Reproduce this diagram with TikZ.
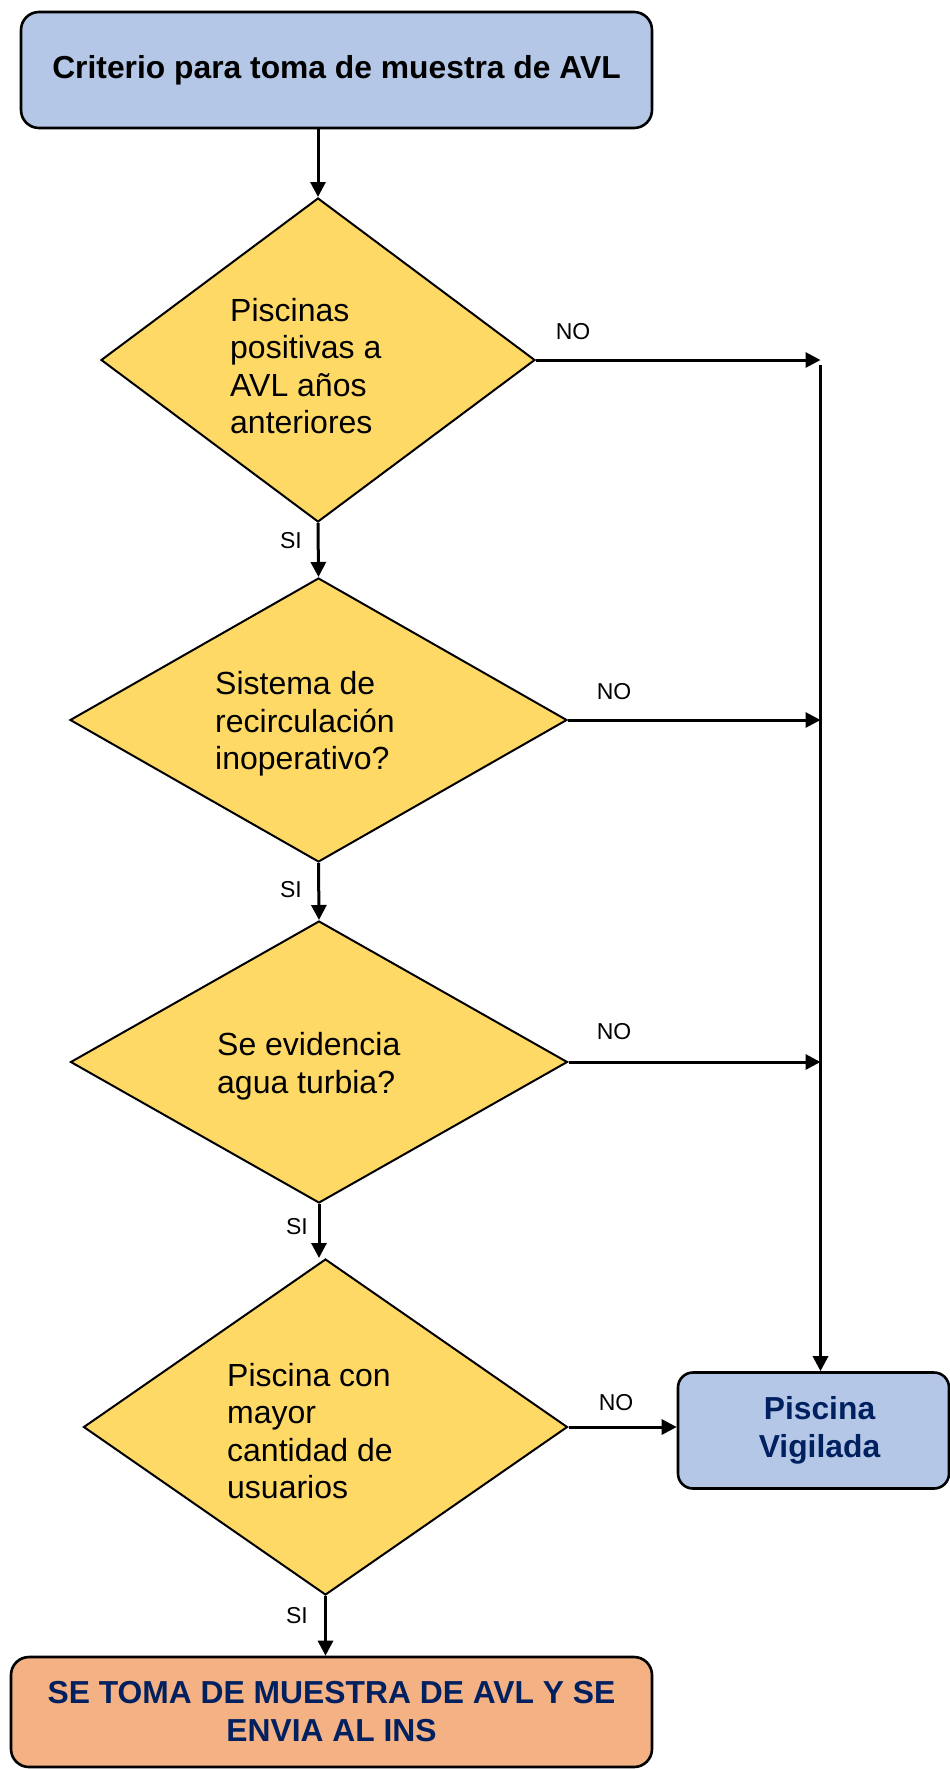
\documentclass[tikz,border=0pt]{standalone}
\usepackage{fontspec}
\setmainfont{Liberation Sans}
\usetikzlibrary{shapes.geometric,arrows.meta}
\definecolor{boxblue}{HTML}{B4C7E7}
\definecolor{gold}{HTML}{FFD966}
\definecolor{peach}{HTML}{F4B183}
\definecolor{navy}{HTML}{002060}
\begin{document}
\begin{tikzpicture}[x=1pt,y=-1pt,
  font=\fontsize{32}{37.5}\selectfont,
  rbox/.style={draw, line width=2.6pt, rounded corners=18pt, inner sep=0pt, align=center,
    font=\bfseries\fontsize{31.8}{38}\selectfont},
  dec/.style={diamond, draw, line width=2pt, fill=gold, inner sep=0pt},
  conn/.style={line width=3pt, -{Triangle[length=15pt,width=15pt]}},
  lab/.style={font=\fontsize{23}{26}\selectfont, inner sep=0pt},
  dtext/.style={anchor=west, align=left, inner sep=0pt}]
\useasboundingbox (0,0) rectangle (950,1769);

\node[rbox, fill=boxblue, minimum width=631pt, minimum height=116pt] (start) at (336.5,70) {Criterio para toma de muestra de AVL};

\node[dec, minimum width=434pt, minimum height=324pt] (d1) at (318,360) {};
\node[dec, minimum width=497pt, minimum height=284pt] (d2) at (318.5,720) {};
\node[dec, minimum width=497pt, minimum height=282pt] (d3) at (319,1062) {};
\node[dec, minimum width=484pt, minimum height=336pt] (d4) at (325.5,1427) {};

\node[dtext] (t1) at (230,366) {Piscinas\\positivas a\\AVL años\\anteriores};
\node[dtext] (t2) at (215,724) {Sistema de\\recirculación\\inoperativo?};
\node[dtext] (t3) at (217,1066) {Se evidencia\\agua turbia?};
\node[dtext] (t4) at (227,1431) {Piscina con\\mayor\\cantidad de\\usuarios};

\node[rbox, fill=boxblue, text=navy, rounded corners=15pt, minimum width=271pt, minimum height=116pt] (pv) at (813.5,1430.5) {\hspace*{12pt}Piscina\\\hspace*{12pt}Vigilada};
\node[rbox, fill=peach, text=navy, minimum width=641pt, minimum height=110pt] (fin) at (331.5,1712) {SE TOMA DE MUESTRA DE AVL Y SE\\ENVIA AL INS};

\coordinate (bus) at (820.5,365);

\draw[conn] (d1.north |- start.south) -- (d1.north);
\draw[conn] (d1.south) -- (d2.north);
\draw[conn] (d2.south) -- (d3.north);
\draw[conn] (d3.south) -- (d3.south |- d4.north);
\draw[conn] (d4.south) -- (d4.south |- fin.north);
\draw[conn] (d1.east) -- (d1.east -| bus);
\draw[conn] (d2.east) -- (d2.east -| bus);
\draw[conn] (d3.east) -- (d3.east -| bus);
\draw[conn] (d4.east) -- (d4.east -| pv.west);
\draw[conn] (bus) -- (bus |- pv.north);

\node[lab] (no1) at (573,332) {NO};
\node[lab] (no2) at (614,692) {NO};
\node[lab] (no3) at (614,1032) {NO};
\node[lab] (no4) at (616,1403) {NO};
\node[lab] (si1) at (291,541) {SI};
\node[lab] (si2) at (291,890) {SI};
\node[lab] (si3) at (297,1227) {SI};
\node[lab] (si4) at (297,1616) {SI};
\end{tikzpicture}
\end{document}
